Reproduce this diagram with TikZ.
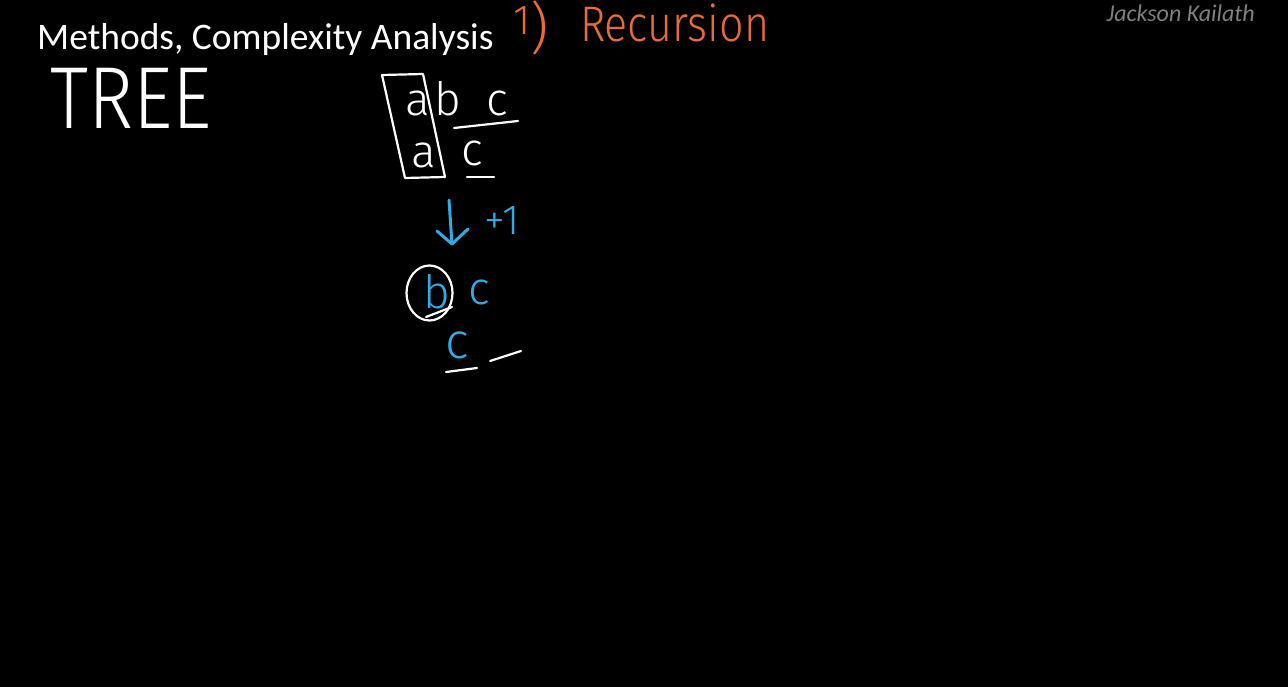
\documentclass[tikz,border=0pt]{standalone}
\usepackage{fontspec}
\setmainfont{Carlito}
\newfontfamily\hand{Fira Sans Light}
\definecolor{hworange}{RGB}{232,108,52}
\definecolor{hwblue}{RGB}{52,170,228}
\definecolor{credit}{RGB}{128,128,128}
\begin{document}
\begin{tikzpicture}[x=1pt,y=-1pt,
  ink/.style={line width=2.2pt,line cap=round,line join=round},
  hw/.style={inner sep=0pt,anchor=base,font=\hand},
  letter/.style={hw,font=\hand\fontsize{46}{50}\selectfont},
]
\fill[black] (0,0) rectangle (1288,687);
\useasboundingbox (0,0) rectangle (1288,687);
% title
\node[inner sep=0pt,anchor=base west,text=white,font=\fontsize{37.5}{42}\selectfont] (title) at (37,50) {Methods, Complexity Analysis};
\node[inner sep=0pt,anchor=base east,text=credit,font=\fontsize{24}{28}\selectfont\itshape] (credit) at (1255,22) {Jackson Kailath};
% heading
\node[hw,text=hworange,anchor=base west] (one) at (513,48) {\fontsize{42}{46}\selectfont\raisebox{13pt}{1}\fontsize{56}{60}\selectfont)};
\node[hw,text=hworange,font=\hand\fontsize{50}{54}\selectfont,anchor=base west,xscale=0.86] (rec) at (580,42) {Recursion};
% TREE
\node[hw,text=white,font=\hand\fontsize{88}{92}\selectfont,anchor=base west,xscale=0.87] (tree) at (50,129) {TREE};
% first block
\node[letter,text=white] (a1) at (418,116) {a};
\node[letter,text=white] (b1) at (448,116) {b};
\node[letter,text=white] (c1) at (497,116) {c};
\node[letter,text=white] (a2) at (424,168) {a};
\node[letter,text=white] (c2) at (472,166) {c};
\draw[ink,white] (382,75) -- (423,74) -- (445,177) -- (405,178) -- cycle;
\coordinate (u1s) at (454,128); \coordinate (u1e) at (518,121);
\draw[ink,white] (u1s) -- (u1e);
\coordinate (u2s) at (467,177); \coordinate (u2e) at (494,177);
\draw[ink,white] (u2s) -- (u2e);
% arrow and +1
\coordinate (arrtop) at (449,200);
\coordinate (arrbot) at (452,244);
\coordinate (arrl) at (437,231);
\coordinate (arrr) at (468,229);
\draw[ink,hwblue,line width=3pt] (arrtop) -- (arrbot);
\draw[ink,hwblue,line width=3pt] (arrl) -- (arrbot) -- (arrr);
\node[hw,text=hwblue,font=\hand\fontsize{42}{46}\selectfont] (plus) at (502,235) {+1};
% second block
\node[letter,text=hwblue] (b2) at (437,308) {b};
\node[letter,text=hwblue] (c3) at (479,304) {c};
\draw[ink,white] (429.5,293) ellipse (23pt and 27.5pt);
\coordinate (u3s) at (426,317); \coordinate (u3e) at (452,307);
\draw[ink,white] (u3s) -- (u3e);
\node[letter,text=hwblue,font=\hand\fontsize{50}{54}\selectfont] (c4) at (457,358) {c};
\coordinate (u4s) at (446,372); \coordinate (u4e) at (477,368);
\draw[ink,white] (u4s) -- (u4e);
\coordinate (d1s) at (490,361); \coordinate (d1e) at (521,351);
\draw[ink,white] (d1s) -- (d1e);
\end{tikzpicture}
\end{document}
